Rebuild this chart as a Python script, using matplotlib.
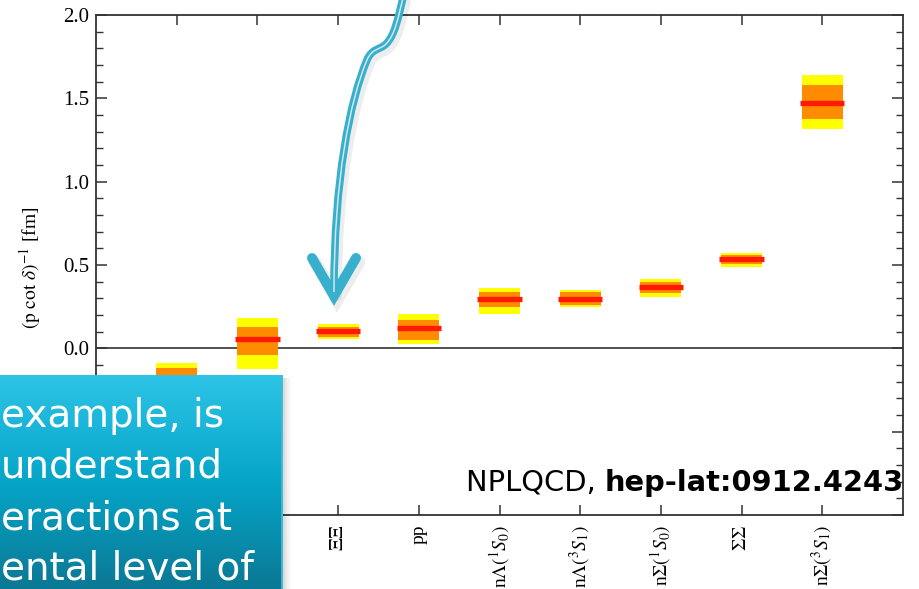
import matplotlib
matplotlib.use("Agg")
import matplotlib.pyplot as plt
import numpy as np
from matplotlib.path import Path
from matplotlib.patches import PathPatch, Rectangle
from matplotlib.colors import LinearSegmentedColormap
from matplotlib.ticker import MultipleLocator

# channels, left to right (the first two labels sit behind the text box)
channels = ["", "", r"$\Xi\Xi$", "pp", r"n$\Lambda(^1S_0)$", r"n$\Lambda(^3S_1)$",
            r"n$\Sigma(^1S_0)$", r"$\Sigma\Sigma$", r"n$\Sigma(^3S_1)$"]

# (p cot delta)^-1 in fm
central = [-0.19, 0.054, 0.104, 0.120, 0.298, 0.298, 0.366, 0.534, 1.470]
inner_hi = [-0.117, 0.126, 0.130, 0.170, 0.340, 0.336, 0.396, 0.560, 1.578]
inner_lo = [-0.260, -0.040, 0.066, 0.050, 0.246, 0.260, 0.330, 0.506, 1.376]
outer_hi = [-0.090, 0.184, 0.144, 0.204, 0.364, 0.348, 0.414, 0.574, 1.638]
outer_lo = [-0.290, -0.124, 0.054, 0.028, 0.206, 0.246, 0.306, 0.490, 1.317]

box_lines = ["example, is", "understand", "eractions at", "ental level of"]

plt.rcParams["font.family"] = ["Liberation Serif", "DejaVu Serif"]
plt.rcParams["mathtext.fontset"] = "stix"

W, H = 919, 589
fig = plt.figure(figsize=(W / 100, H / 100), dpi=100)

# ---- main plot
ax = fig.add_axes([96 / W, 1 - 515 / H, (903 - 96) / W, (515 - 15) / H])
x = np.arange(1, len(channels) + 1)
c = np.array(central)
ihi, ilo = np.array(inner_hi), np.array(inner_lo)
ohi, olo = np.array(outer_hi), np.array(outer_lo)

ax.bar(x, ohi - olo, bottom=olo, width=0.51, color="#ffff00", zorder=2)
ax.bar(x, ihi - ilo, bottom=ilo, width=0.51, color="#ff8c00", zorder=3)
ax.hlines(c, x - 0.275, x + 0.275, color="#ff1a00", lw=3.8, zorder=4)
ax.axhline(0, color="#333333", lw=1.2, zorder=1)

ax.set_xlim(0, 10)
ax.set_ylim(-1.0, 2.0)
ax.set_xticks(x)
ax.set_xticklabels(channels, rotation=90, fontsize=14, va="top")
ax.yaxis.set_major_locator(MultipleLocator(0.5))
ax.yaxis.set_minor_locator(MultipleLocator(0.1))
ax.yaxis.set_major_formatter(plt.FuncFormatter(lambda v, p: "%.1f" % v if v > -0.25 else ""))
ax.tick_params(axis="x", direction="in", top=True, length=7, width=1.1,
               color="#333333", pad=7)
ax.tick_params(axis="y", which="major", direction="in", right=True, length=8,
               width=1.1, color="#333333", labelsize=15, pad=5)
ax.tick_params(axis="y", which="minor", direction="in", right=True, length=5,
               width=1.0, color="#333333")
for s in ax.spines.values():
    s.set_linewidth(1.3)
    s.set_color("#333333")

fig.text(30 / W, 1 - 268 / H, r"$(\mathrm{p\ cot}\ \delta)^{-1}$ [fm]",
         rotation=90, ha="center", va="center", fontsize=14)

# ---- overlay in pixel space for the slide decorations
ov = fig.add_axes([0, 0, 1, 1], zorder=5)
ov.set_xlim(0, W)
ov.set_ylim(H, 0)
ov.axis("off")

shaft = [(403, -2), (398, 18), (395, 35), (386, 44),
         (380, 50), (372, 48), (367, 60),
         (350, 100), (334, 180), (334, 292)]
codes = [Path.MOVETO] + [Path.CURVE4] * 9
head = [(312, 258), (334, 296), (356, 258)]
hcodes = [Path.MOVETO, Path.LINETO, Path.LINETO]
blue = "#36b0cc"

def arrow(dx, dy, color, lw, alpha=1.0):
    p = Path([(a + dx, b + dy) for a, b in shaft], codes)
    ov.add_patch(PathPatch(p, fill=False, ec=color, lw=lw, alpha=alpha,
                           capstyle="round", joinstyle="round"))
    h = Path([(a + dx, b + dy) for a, b in head], hcodes)
    ov.add_patch(PathPatch(h, fill=False, ec=color, lw=lw * 1.3, alpha=alpha,
                           capstyle="round", joinstyle="miter"))

arrow(3, 4, "#000000", 7.0, alpha=0.07)
arrow(0, 0, blue, 5.5)
ov.add_patch(PathPatch(Path(shaft, codes), fill=False, ec="#d2e6eb", lw=1.1))

# box shadow
for i, a in enumerate([0.14, 0.09, 0.05, 0.025]):
    ov.add_patch(Rectangle((283 + i * 2, 378), 2, H - 378, color="black",
                           alpha=a, lw=0))

# ---- teal text box
bx = fig.add_axes([0, 0, 283 / W, 1 - 375 / H], zorder=6)
cmap = LinearSegmentedColormap.from_list("teal", ["#0b7894", "#05a5c8", "#2dc4e7"])
grad = np.linspace(0, 1, 256).reshape(-1, 1)
bx.imshow(grad, aspect="auto", cmap=cmap, origin="lower", extent=[0, 1, 0, 1])
bx.axvline(0.995, color="#48b9d2", lw=2)
bx.axis("off")

for i, line in enumerate(box_lines):
    fig.text(1 / W, 1 - (427 + 51 * i) / H, line, color="white", fontsize=28,
             family="DejaVu Sans", va="baseline", ha="left", zorder=10)

# ---- citation
t1 = fig.text(466 / W, 1 - 491 / H, "NPLQCD, ", fontsize=20.8, family="DejaVu Sans",
              va="baseline", ha="left", zorder=10)
fig.canvas.draw()
bb = t1.get_window_extent()
fig.text(bb.x1 / W, 1 - 491 / H, "hep-lat:0912.4243", fontsize=20.8,
         family="DejaVu Sans", weight="bold", va="baseline", ha="left", zorder=10)

fig.savefig("out.png", dpi=100)
